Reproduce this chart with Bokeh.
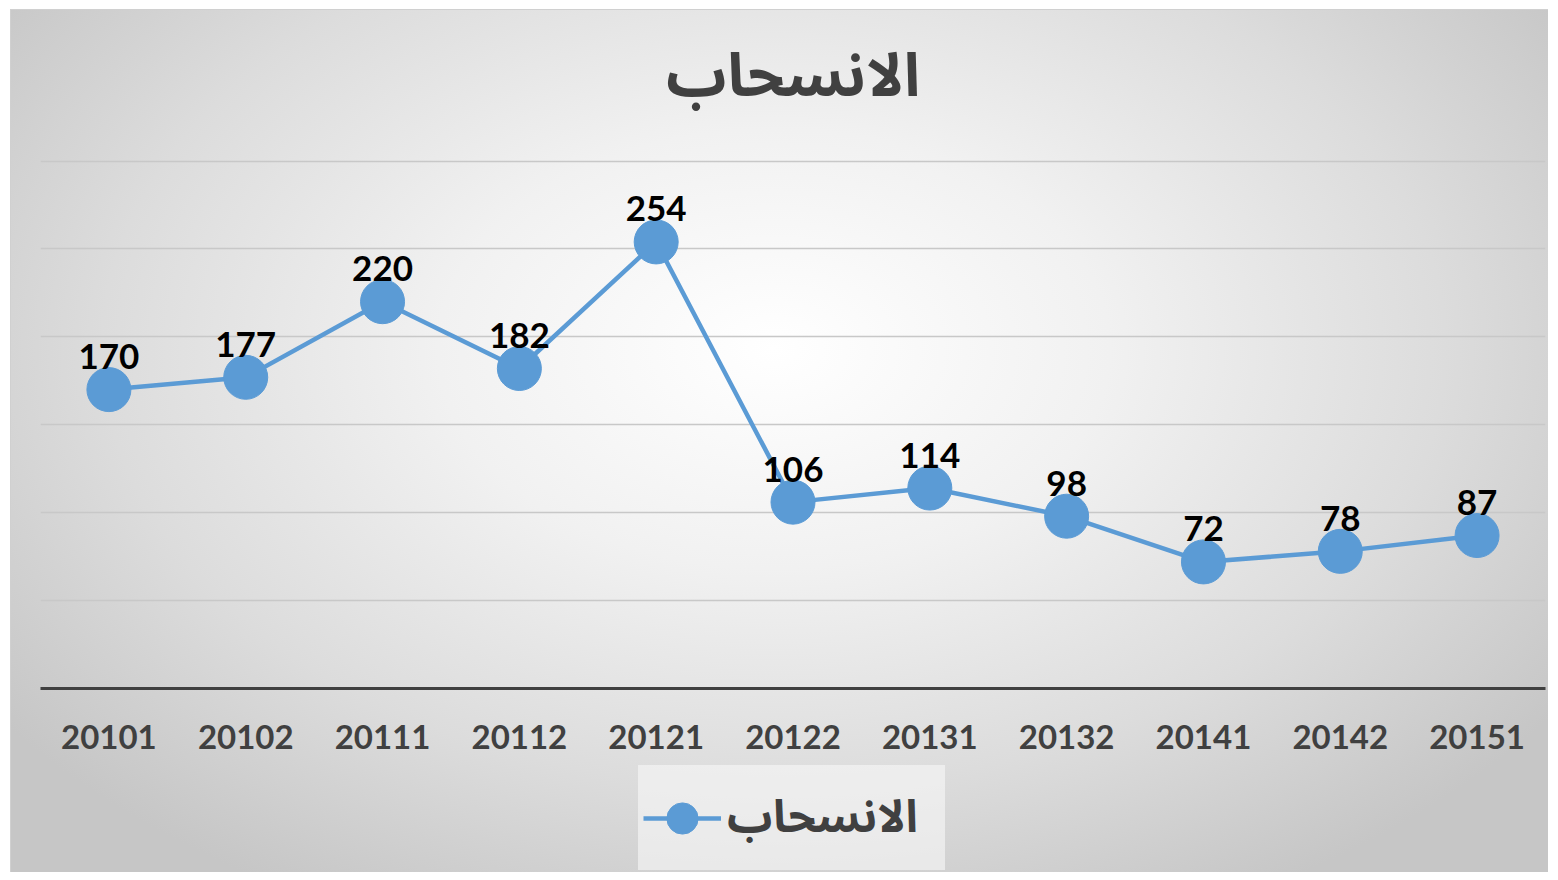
from bokeh.plotting import figure
from bokeh.layouts import column
from bokeh.models import ColumnDataSource, FixedTicker, Legend, LegendItem, LabelSet, Label, Range1d
from bokeh.core.properties import value
from bokeh.embed import file_html
from bokeh.resources import INLINE

categories = ["20101", "20102", "20111", "20112", "20121", "20122",
              "20131", "20132", "20141", "20142", "20151"]
values = [170, 177, 220, 182, 254, 106, 114, 98, 72, 78, 87]
series_name = "الانسحاب"
grid_ticks = [50, 100, 150, 200, 250, 300]

src = ColumnDataSource(dict(x=categories, y=values, label=[str(v) for v in values]))

ARABIC_FONT = "'Noto Sans Arabic', 'Noto Naskh Arabic', 'DejaVu Sans', sans-serif"
BLUE = "#5B9BD5"
DARK = "#404040"
W = 1548


def strip(height, **kw):
    f = figure(width=W, height=height, output_backend="svg", toolbar_location=None,
               x_axis_location=None, y_axis_location=None,
               min_border_left=0, min_border_right=0,
               min_border_top=0, min_border_bottom=0, **kw)
    f.background_fill_alpha = 0
    f.border_fill_alpha = 0
    f.outline_line_color = None
    f.grid.visible = False
    return f


# ---------------- title strip ----------------
tf = strip(150, x_range=Range1d(0, 1), y_range=Range1d(0, 1))
tf.add_layout(Label(x=0.5, y=0.49, text=series_name, text_align="center",
                    text_baseline="middle", text_font=ARABIC_FONT,
                    text_font_style="bold", text_font_size="60px", text_color=DARK))

# ---------------- main chart ----------------
p = figure(width=W, height=615, x_range=categories, y_range=(0, 306),
           output_backend="svg", toolbar_location=None,
           min_border_left=40, min_border_right=3,
           min_border_top=0, min_border_bottom=77)
p.background_fill_alpha = 0
p.border_fill_alpha = 0
p.outline_line_color = None

r_line = p.line("x", "y", source=src, line_color=BLUE, line_width=4.5)
r_pts = p.scatter("x", "y", source=src, size=44, fill_color=BLUE, line_color=BLUE)

labels = LabelSet(x="x", y="y", text="label", source=src, y_offset=33,
                  text_align="center", text_baseline="middle",
                  text_font_size=value("35px"), text_font_style=value("bold"),
                  text_font=value("Lato"), text_color=value("black"))
p.add_layout(labels)

p.yaxis.visible = False
p.xgrid.visible = False
p.ygrid.ticker = FixedTicker(ticks=grid_ticks)
p.ygrid.grid_line_color = "#c8c8c8"
p.ygrid.grid_line_width = 1.5

ax = p.xaxis[0]
ax.axis_line_color = DARK
ax.axis_line_width = 3
ax.major_tick_line_color = None
ax.minor_tick_line_color = None
ax.major_label_text_font = "Lato"
ax.major_label_text_font_style = "bold"
ax.major_label_text_font_size = "33px"
ax.major_label_text_color = DARK
ax.major_label_standoff = 30

# ---------------- legend strip ----------------
lf = strip(107, x_range=categories, y_range=Range1d(1000, 1100))
l_line = lf.line("x", "y", source=src, line_color=BLUE, line_width=4.5)
l_pts = lf.scatter("x", "y", source=src, size=44, fill_color=BLUE, line_color=BLUE)

legend = Legend(items=[LegendItem(label=series_name, renderers=[l_line, l_pts])],
                location=(598, 2), orientation="horizontal",
                glyph_width=78, glyph_height=80, label_standoff=6,
                label_width=213,
                label_text_font=ARABIC_FONT, label_text_font_style="bold",
                label_text_font_size="45px", label_text_color=DARK,
                label_text_baseline="middle",
                background_fill_color="#f8f8f8", background_fill_alpha=0.6,
                border_line_alpha=0, padding=5, margin=0)
lf.add_layout(legend)

layout = column(tf, p, lf, spacing=0)
layout.styles = {
    "background-image": "radial-gradient(ellipse 62% 72% at 50% 40%, #ffffff 0%, #f1f1f1 35%, #dcdcdc 70%, #c6c6c6 100%)",
    "box-shadow": "inset 10px 9px 0 0 #ffffff, inset 11px 10px 0 0 #d0d0d0",
}

open("out.html", "w").write(file_html(layout, INLINE))
